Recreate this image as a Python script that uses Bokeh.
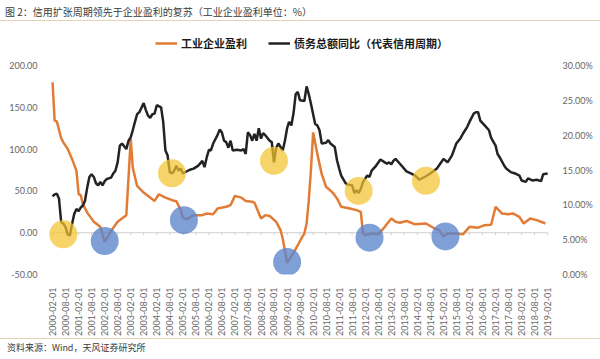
import math
import pandas as pd
from bokeh.plotting import figure
from bokeh.models import (Range1d, LinearAxis, FixedTicker, DatetimeTickFormatter,
                          PrintfTickFormatter, NumeralTickFormatter, Legend, LegendItem, Div)
from bokeh.layouts import column
from bokeh.embed import file_html
from bokeh.resources import INLINE

# ---------------- data ----------------
profit_dates = [
    "2000-02", "2000-03", "2000-04", "2000-06", "2000-07", "2000-09", "2000-11",
    "2001-01", "2001-02", "2001-03", "2001-04", "2001-06", "2001-09", "2001-12",
    "2002-02", "2002-05", "2002-08", "2002-12", "2003-02", "2003-03", "2003-05",
    "2003-08", "2004-01", "2004-03", "2004-06", "2004-10", "2004-11", "2005-01",
    "2005-02", "2005-04", "2005-07", "2005-11", "2006-01", "2006-04", "2006-06",
    "2006-10", "2006-12", "2007-02", "2007-05", "2007-07", "2007-10", "2007-11",
    "2008-02", "2008-04", "2008-06", "2008-09", "2008-11", "2008-12", "2009-02",
    "2009-05", "2009-07", "2009-09", "2009-10", "2009-11", "2009-12", "2010-01",
    "2010-02", "2010-04", "2010-06", "2010-08", "2010-11", "2011-01", "2011-03",
    "2011-07", "2011-10", "2011-12", "2012-01", "2012-02", "2012-05", "2012-08",
    "2012-11", "2013-02", "2013-04", "2013-06", "2013-09", "2014-01", "2014-06",
    "2014-10", "2014-12", "2015-02", "2015-04", "2015-08", "2015-11", "2016-02",
    "2016-06", "2016-09", "2016-12", "2017-02", "2017-05", "2017-08", "2017-10",
    "2018-01", "2018-03", "2018-06", "2018-09", "2019-01",
]
profit_values = [
    180, 134, 133, 113, 108, 100, 88,
    74, 46, 45, 34, 24, 13, 7,
    -11, 2, 13, 21, 112, 78, 56,
    48, 38, 46, 42, 38, 38, 27,
    18, 16, 21, 21, 23, 22, 29,
    31, 33, 44, 42, 38, 37, 36,
    17, 21, 20, 13, 3, -7, -36,
    -24, -15, -5, -1, 11, 38, 75,
    120, 94, 70, 55, 48, 41, 31,
    29, 27, 25, -1, -3, -1, -2,
    7, 17, 13, 12, 14, 10, 11,
    5, 3, -4.5, -1, -1, -2, 7,
    6, 9, 9.5, 31, 23, 22, 23,
    19, 11, 17, 15, 11,
]

debt_dates = [
    "2000-02", "2000-03", "2000-04", "2000-05", "2000-06", "2000-07", "2000-08",
    "2000-09", "2000-10", "2000-11", "2000-12", "2001-01", "2001-02", "2001-03",
    "2001-04", "2001-05", "2001-06", "2001-07", "2001-08", "2001-09", "2001-10",
    "2001-11", "2001-12", "2002-01", "2002-02", "2002-03", "2002-05", "2002-06",
    "2002-07", "2002-08", "2002-09", "2002-10", "2002-12", "2003-01", "2003-02",
    "2003-03", "2003-04", "2003-05", "2003-06", "2003-08", "2003-09", "2003-10",
    "2003-11", "2003-12", "2004-01", "2004-02", "2004-04", "2004-05", "2004-06",
    "2004-07", "2004-08", "2004-09", "2004-10", "2004-11", "2004-12", "2005-01",
    "2005-02", "2005-05", "2005-07", "2005-09", "2005-11", "2005-12", "2006-01",
    "2006-02", "2006-03", "2006-04", "2006-06", "2006-07", "2006-08", "2006-09",
    "2006-10", "2006-11", "2006-12", "2007-01", "2007-03", "2007-05", "2007-06",
    "2007-07", "2007-08", "2007-09", "2007-10", "2007-11", "2007-12", "2008-01",
    "2008-02", "2008-03", "2008-04", "2008-06", "2008-07", "2008-08", "2008-09",
    "2008-10", "2008-12", "2009-01", "2009-02", "2009-03", "2009-04", "2009-05",
    "2009-06", "2009-07", "2009-08", "2009-10", "2009-11", "2009-12", "2010-01",
    "2010-03", "2010-04", "2010-05", "2010-06", "2010-08", "2010-09", "2010-10",
    "2010-12", "2011-01", "2011-02", "2011-03", "2011-05", "2011-06", "2011-08",
    "2011-09", "2011-10", "2011-11", "2011-12", "2012-01", "2012-03", "2012-04",
    "2012-05", "2012-07", "2012-09", "2012-11", "2012-12", "2013-01", "2013-02",
    "2013-03", "2013-04", "2013-06", "2013-09", "2013-11", "2014-01", "2014-03",
    "2014-06", "2014-08", "2014-11", "2015-01", "2015-02", "2015-04", "2015-06",
    "2015-08", "2015-10", "2015-11", "2016-01", "2016-02", "2016-04", "2016-05",
    "2016-06", "2016-07", "2016-09", "2016-11", "2016-12", "2017-02", "2017-03",
    "2017-04", "2017-06", "2017-07", "2017-09", "2017-11", "2018-01", "2018-02",
    "2018-04", "2018-05", "2018-07", "2018-09", "2018-11", "2018-12", "2019-02",
]
debt_values = [
    11.2, 11.5, 11.6, 10.9, 7.5, 7.3, 6.8,
    5.75, 5.6, 7.3, 8.7, 9.4, 9.1, 9.6,
    9.9, 10.6, 12.5, 14.0, 14.4, 14.0, 13.1,
    12.8, 13.3, 12.8, 13.4, 13.7, 13.9, 14.5,
    14.9, 16.1, 18.5, 18.8, 18.0, 19.2, 19.7,
    20.7, 21.9, 23.0, 23.3, 24.6, 23.6, 22.8,
    22.5, 23.0, 23.1, 24.3, 24.0, 21.9, 17.8,
    17.1, 14.7, 14.5, 14.9, 15.6, 14.9, 15.2,
    14.5, 15.0, 15.2, 15.6, 16.3, 15.4, 16.8,
    17.9, 17.8, 18.8, 20.0, 20.8, 20.4, 19.2,
    19.0, 18.2, 19.2, 17.8, 17.9, 17.8, 18.0,
    17.3, 20.4, 20.0, 19.2, 20.2, 19.2, 21.0,
    19.5, 20.3, 20.0, 19.2, 19.0, 16.1, 18.2,
    18.8, 17.8, 19.2, 21.0, 21.9, 21.4, 23.1,
    25.9, 26.2, 25.0, 24.9, 27.0, 25.9, 24.5,
    21.6, 21.4, 20.7, 18.8, 18.9, 19.3, 18.8,
    18.3, 16.4, 15.2, 14.2, 13.1, 12.9, 12.8,
    11.7, 12.1, 11.7, 12.3, 13.3, 14.2, 14.0,
    14.9, 15.6, 16.5, 16.1, 15.9, 16.1, 15.8,
    16.3, 16.6, 15.9, 14.8, 14.5, 14.2, 13.6,
    14.1, 14.5, 15.2, 16.1, 16.6, 16.1, 17.1,
    18.8, 19.6, 20.2, 21.2, 21.9, 23.1, 23.3,
    23.3, 22.1, 21.4, 20.7, 19.6, 18.5, 17.3,
    16.8, 15.65, 15.2, 14.7, 14.5, 14.2, 13.5,
    13.3, 13.8, 13.5, 13.6, 13.4, 14.4, 14.5,
]

# highlight circles (left-axis units)
yellow_dates = ["2000-07-01", "2004-09-01", "2008-08-01", "2011-11-01", "2014-06-01"]
yellow_values = [-2, 71, 86, 50, 62]
blue_dates = ["2002-02-01", "2005-02-15", "2009-02-01", "2012-04-01", "2015-03-01"]
blue_values = [-10, 15, -35, -6, -4.5]

tick_labels = [
    "2000-02-01", "2000-08-01", "2001-02-01", "2001-08-01", "2002-02-01", "2002-08-01",
    "2003-02-01", "2003-08-01", "2004-02-01", "2004-08-01", "2005-02-01", "2005-08-01",
    "2006-02-01", "2006-08-01", "2007-02-01", "2007-08-01", "2008-02-01", "2008-08-01",
    "2009-02-01", "2009-08-01", "2010-02-01", "2010-08-01", "2011-02-01", "2011-08-01",
    "2012-02-01", "2012-08-01", "2013-02-01", "2013-08-01", "2014-02-01", "2014-08-01",
    "2015-02-01", "2015-08-01", "2016-02-01", "2016-08-01", "2017-02-01", "2017-08-01",
    "2018-02-01", "2018-08-01", "2019-02-01",
]
left_ticks = [-50, 0, 50, 100, 150, 200]
right_ticks = [0, 5, 10, 15, 20, 25, 30]

title_text = "图 2：信用扩张周期领先于企业盈利的复苏（工业企业盈利单位：%）"
source_text = "资料来源：Wind，天风证券研究所"
profit_name = "工业企业盈利"
debt_name = "债务总额同比（代表信用周期）"

# ---------------- chart ----------------
CJK = "Noto Sans CJK SC"
NUM = "Lato"
ORANGE = "#E27C35"
BLACK = "#232323"

tick_x = pd.to_datetime(tick_labels, format="%Y-%m-%d")
profit_x = pd.to_datetime(profit_dates, format="%Y-%m")
debt_x = pd.to_datetime(debt_dates, format="%Y-%m")

p = figure(width=600, height=279, x_axis_type="datetime",
           x_range=Range1d(pd.Timestamp("1999-11-22"), pd.Timestamp("2019-04-10")),
           y_range=Range1d(-50, 200),
           output_backend="svg", toolbar_location=None,
           min_border_left=47, min_border_right=48, min_border_top=6, min_border_bottom=64)
p.outline_line_color = None
p.xgrid.visible = False
p.ygrid.visible = False
p.background_fill_color = "white"
p.border_fill_color = "white"

# left axis
la = p.yaxis[0]
la.ticker = FixedTicker(ticks=left_ticks)
la.formatter = NumeralTickFormatter(format="0.00")
# right axis
p.extra_y_ranges = {"right": Range1d(0, 30)}
ra = LinearAxis(y_range_name="right", ticker=FixedTicker(ticks=right_ticks),
                formatter=PrintfTickFormatter(format="%.2f%%"))
p.add_layout(ra, "right")

for ax in (la, ra):
    ax.axis_line_color = None
    ax.major_tick_line_color = None
    ax.minor_tick_line_color = None
    ax.major_label_text_font = NUM
    ax.major_label_text_font_size = "9px"
    ax.major_label_text_color = "#666666"
    ax.major_label_standoff = 4

xa = p.xaxis[0]
xa.ticker = FixedTicker(ticks=[int(t.value // 10**6) for t in tick_x])
fmt = "%Y-%m-%d"
xa.formatter = DatetimeTickFormatter(milliseconds=fmt, seconds=fmt, minsec=fmt, minutes=fmt,
                                     hourmin=fmt, hours=fmt, days=fmt, months=fmt, years=fmt)
xa.major_label_orientation = math.pi / 2
xa.axis_line_color = None
xa.major_tick_line_color = None
xa.minor_tick_line_color = None
xa.major_label_text_font = NUM
xa.major_label_text_font_size = "9px"
xa.major_label_text_color = "#666666"
xa.major_label_standoff = 7

# zero baseline with small ticks
p.segment(x0=[tick_x[0]], y0=[0], x1=[tick_x[-1]], y1=[0], line_color="#D0D0D0", line_width=1)
p.segment(x0=tick_x, y0=[0] * len(tick_x), x1=tick_x, y1=[-3] * len(tick_x),
          line_color="#D0D0D0", line_width=1)

p.line(profit_x, profit_values, line_color=ORANGE, line_width=2.5)
p.line(debt_x, debt_values, line_color=BLACK, line_width=2.5, y_range_name="right")

p.scatter(pd.to_datetime(yellow_dates, format="%Y-%m-%d"), yellow_values, size=28,
          marker="circle", fill_color="#F4C430", fill_alpha=0.72, line_color=None)
p.scatter(pd.to_datetime(blue_dates, format="%Y-%m-%d"), blue_values, size=28,
          marker="circle", fill_color="#5B84CC", fill_alpha=0.78, line_color=None)

# ---------------- legend strip ----------------
# same series drawn in a strip whose ranges exclude them; only the legend shows
lg = figure(width=600, height=38, x_range=Range1d(0, 1), y_range=Range1d(0, 1),
            output_backend="svg", toolbar_location=None,
            x_axis_location=None, y_axis_location=None,
            min_border_left=0, min_border_right=0, min_border_top=0, min_border_bottom=0)
lg.outline_line_color = None
lg.xgrid.visible = False
lg.ygrid.visible = False
lg_profit = lg.line(profit_x, profit_values, line_color=ORANGE, line_width=2.5)
lg_debt = lg.line(debt_x, debt_values, line_color=BLACK, line_width=2.5)
legend = Legend(items=[LegendItem(label=profit_name, renderers=[lg_profit]),
                       LegendItem(label=debt_name, renderers=[lg_debt])],
                orientation="horizontal", location=(108, 6),
                border_line_color=None, background_fill_alpha=0,
                label_text_font=CJK, label_text_font_style="bold",
                label_text_font_size="11px", label_text_color="#1A1A1A",
                glyph_width=22, glyph_height=20, label_height=20,
                label_standoff=4, spacing=21, padding=0, margin=0)
lg.add_layout(legend)

title_div = Div(text=title_text, width=600, height=21, margin=(0, 0, 0, 0),
                styles={"font-family": CJK, "font-size": "10px", "color": "#3A3A3A",
                        "line-height": "14px", "padding-top": "5px", "padding-left": "5px",
                        "border-bottom": "1px solid #E3D3B4", "box-sizing": "border-box"})
source_div = Div(text=source_text, width=600, height=21, margin=(0, 0, 0, 0),
                 styles={"font-family": CJK, "font-size": "9px", "color": "#3A3A3A",
                         "line-height": "14px", "border-top": "1px solid #E3D3B4",
                         "padding-top": "2px", "padding-left": "7px", "box-sizing": "border-box"})

layout = column(title_div, lg, p, source_div, spacing=0)
open("out.html", "w").write(file_html(layout, INLINE))
